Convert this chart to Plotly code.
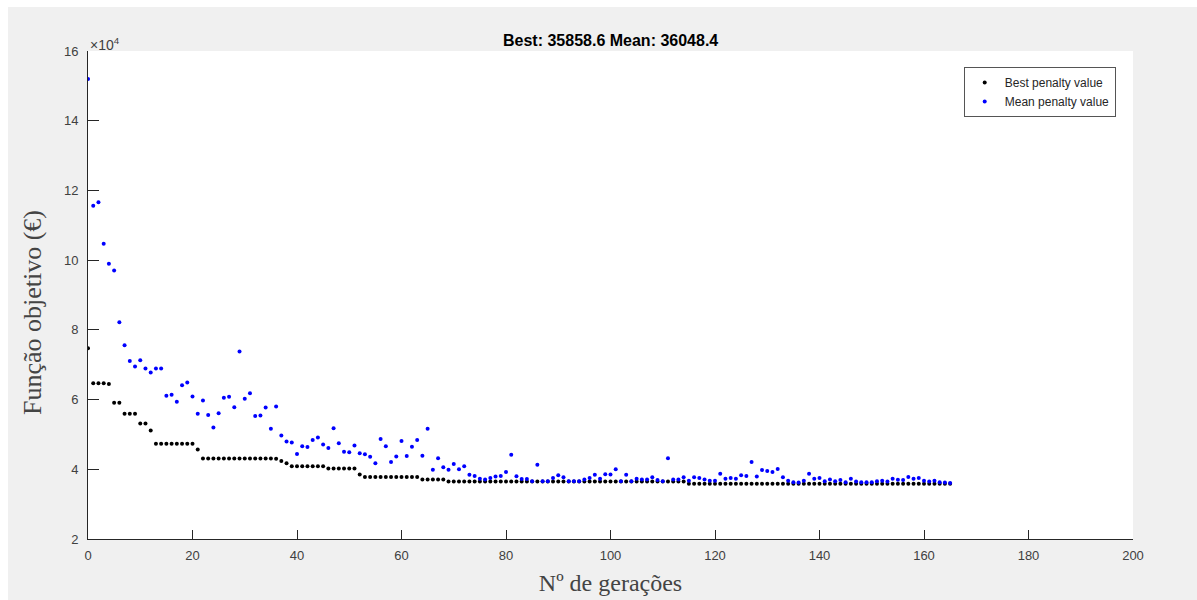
import plotly.graph_objects as go

generations = list(range(0, 166))

best_penalty = [
    74700, 64700, 64700, 64700, 64500, 59100, 59100, 55900, 55900, 55900,
    53100, 53100, 51100, 47300, 47300, 47300, 47300, 47300, 47300, 47300,
    47300, 45700, 43100, 43100, 43100, 43100, 43100, 43100, 43100, 43100,
    43100, 43100, 43100, 43100, 43100, 43100, 43000, 42400, 41700, 40900,
    40900, 40900, 40900, 40900, 40900, 40900, 40200, 40200, 40200, 40200,
    40200, 40200, 38500, 37800, 37800, 37800, 37800, 37800, 37800, 37800,
    37800, 37800, 37800, 37800, 37100, 37100, 37100, 37100, 37100, 36500,
    36500, 36500, 36500, 36500, 36500, 36500, 36500, 36500, 36500, 36500,
    36500, 36500, 36500, 36500, 36500, 36500, 36500, 36500, 36500, 36500,
    36500, 36500, 36500, 36500, 36500, 36500, 36500, 36500, 36500, 36500,
    36500, 36500, 36500, 36500, 36500, 36500, 36500, 36500, 36500, 36500,
    36500, 36500, 36500, 36500, 36500, 35860, 35860, 35860, 35860, 35860,
    35860, 35860, 35860, 35860, 35860, 35860, 35860, 35860, 35860, 35860,
    35860, 35860, 35860, 35860, 35860, 35860, 35860, 35860, 35860, 35860,
    35860, 35860, 35860, 35860, 35860, 35860, 35860, 35860, 35860, 35860,
    35860, 35860, 35860, 35860, 35860, 35860, 35860, 35860, 35860, 35860,
    35860, 35860, 35860, 35860, 35860, 35858.6,
]

mean_penalty = [
    152000, 115600, 116600, 104700, 99000, 97000, 82200, 75600, 71100, 69500,
    71300, 68900, 67800, 68900, 68900, 61100, 61400, 59400, 64100, 64900,
    60900, 55900, 59700, 55600, 52000, 56100, 60500, 60800, 57800, 73800,
    60200, 61800, 55300, 55400, 57700, 51600, 58000, 49700, 48000, 47700,
    44400, 46600, 46400, 48400, 49100, 47100, 46100, 51800, 47500, 45000,
    44900, 46800, 44600, 44300, 43600, 41700, 48700, 46600, 42100, 43700,
    48100, 43800, 46500, 48400, 43900, 51600, 39900, 43200, 40600, 39900,
    41500, 40000, 40900, 38400, 38100, 37300, 37100, 37500, 37900, 38100,
    39200, 44200, 38000, 37200, 37200, 36600, 41300, 36600, 36600, 37500,
    38300, 37700, 36600, 36600, 36600, 37100, 37500, 38400, 37300, 38600,
    38500, 40000, 36600, 38400, 36600, 37300, 37100, 37100, 37700, 36900,
    36600, 43200, 37100, 37100, 37700, 36700, 37700, 37500, 37100, 36700,
    36700, 38700, 37300, 37500, 37300, 38300, 38100, 42100, 37900, 39800,
    39500, 39200, 40100, 37700, 36700, 36300, 36200, 36700, 38700, 37300,
    37500, 36600, 37100, 36600, 36900, 36300, 37300, 36500, 36300, 36300,
    36300, 36600, 36700, 36500, 37300, 37000, 36900, 37800, 37300, 37500,
    36700, 36500, 36700, 36300, 36200, 36048.4,
]

y_tick_values = [20000, 40000, 60000, 80000, 100000, 120000, 140000, 160000]
y_tick_labels = ["2", "4", "6", "8", "10", "12", "14", "16"]
x_tick_values = [0, 20, 40, 60, 80, 100, 120, 140, 160, 180, 200]

title_text = "Best: 35858.6 Mean: 36048.4"
x_title = "Nº de gerações"
y_title = "Função objetivo (€)"

AXIS_COLOR = "#262626"
SANS = "Liberation Sans, Arial, sans-serif"
TICK_FONT = dict(family=SANS, size=13, color="#404040")
SERIF = "Liberation Serif, Times New Roman, serif"

fig = go.Figure()
fig.add_trace(go.Scatter(
    x=generations, y=best_penalty, mode="markers", name="Best penalty value",
    marker=dict(color="black", size=4, line=dict(width=0)),
))
fig.add_trace(go.Scatter(
    x=generations, y=mean_penalty, mode="markers", name="Mean penalty value",
    marker=dict(color="#0000ff", size=4, line=dict(width=0)),
))

fig.update_layout(
    width=1197, height=600, autosize=False,
    margin=dict(l=88, r=64, t=51, b=61, pad=0),
    paper_bgcolor="#f0f0f0", plot_bgcolor="white",
    showlegend=True,
    legend=dict(
        x=0.838, y=0.967, xanchor="left", yanchor="top",
        bgcolor="white", bordercolor="#555555", borderwidth=1,
        font=dict(family=SANS, size=12, color="#262626"),
        tracegroupgap=0,
    ),
    xaxis=dict(
        range=[0, 200], tickvals=x_tick_values, ticks="inside", ticklen=9,
        tickcolor=AXIS_COLOR, showline=True, linecolor=AXIS_COLOR, linewidth=1,
        showgrid=False, zeroline=False, tickfont=TICK_FONT, mirror=False,
        ticklabelstandoff=4,
        title=dict(text=x_title, font=dict(family=SERIF, size=24, color="#444444"), standoff=12),
        automargin=False,
    ),
    yaxis=dict(
        range=[20000, 160000], tickvals=y_tick_values, ticktext=y_tick_labels,
        ticks="inside", ticklen=11, tickcolor=AXIS_COLOR, showline=True,
        linecolor=AXIS_COLOR, linewidth=1, showgrid=False, zeroline=False,
        tickfont=TICK_FONT, mirror=False, ticklabelstandoff=6,
        automargin=False,
    ),
    annotations=[
        dict(text="<b>" + title_text + "</b>", x=0.5, y=1.0225, xref="paper", yref="paper",
             xanchor="center", yanchor="middle", showarrow=False,
             font=dict(family=SANS, size=16, color="black")),
        dict(text="×10<sup>4</sup>", x=0.0, y=1.014, xref="paper", yref="paper",
             xanchor="left", yanchor="middle", showarrow=False,
             font=dict(family=SANS, size=14, color="#404040")),
        dict(text=y_title, textangle=-90, x=-0.0536, y=0.465, xref="paper", yref="paper",
             xanchor="center", yanchor="middle", showarrow=False,
             font=dict(family=SERIF, size=26, color="#444444")),
    ],
    shapes=[
        dict(type="rect", xref="paper", yref="paper", x0=-0.1, x1=1.1, y0=1.0902, y1=1.12,
             fillcolor="white", line=dict(width=0), layer="below"),
        dict(type="rect", xref="paper", yref="paper", x0=-0.1, x1=-0.0766, y0=-0.15, y1=1.12,
             fillcolor="white", line=dict(width=0), layer="below"),
    ],
)

fig.write_html("out.html")
